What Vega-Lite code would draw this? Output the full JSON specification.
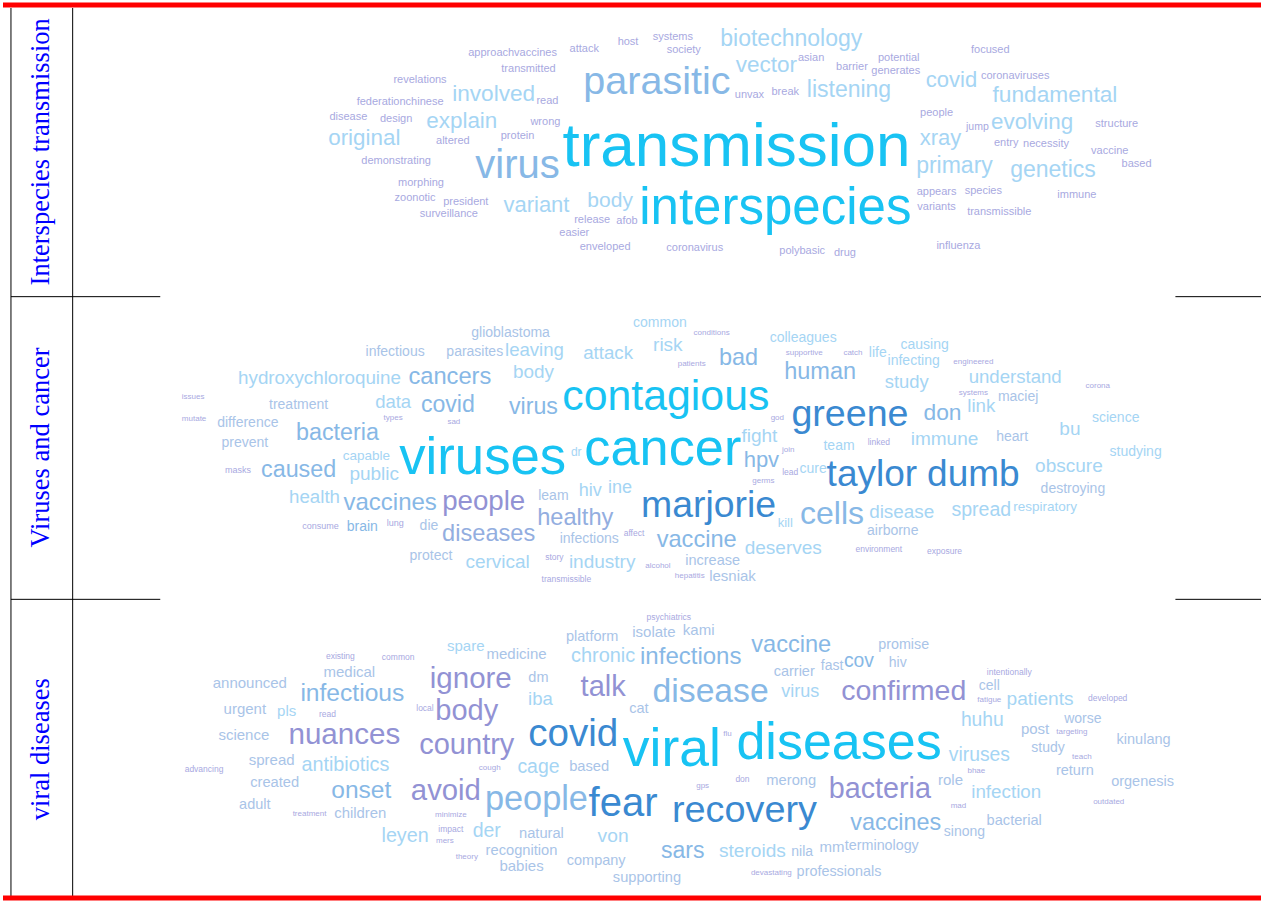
{
"$schema": "https://vega.github.io/schema/vega-lite/v6.json",
"width": 1264, "height": 901,
"autosize": {"type": "fit", "contains": "padding"},
"padding": 0,
"background": "white",
"config": {"view": {"stroke": null}},
"datasets": {
"frame": [
{"x":8,"x2":8,"y":8,"y2":898},
{"x":70,"x2":70,"y":8,"y2":898},
{"x":8,"x2":158,"y":297,"y2":297},
{"x":1178,"x2":1264,"y":297,"y2":297},
{"x":8,"x2":158,"y":600,"y2":600},
{"x":1178,"x2":1264,"y":600,"y2":600}
],
"border": [
{"x":0,"x2":1264,"y":5,"y2":5},
{"x":0,"x2":1264,"y":899,"y2":899}
],
"labels": [
{"label":"Interspecies transmission","x":38,"y":152},
{"label":"Viruses and cancer","x":38,"y":448},
{"label":"viral diseases","x":38,"y":750}
],
"words": [
{"topic":1,"word":"transmission","x":737,"y":147,"freq":62,"cluster":"A"},
{"topic":1,"word":"interspecies","x":776,"y":209,"freq":51,"cluster":"A"},
{"topic":1,"word":"parasitic","x":657,"y":82,"freq":39.5,"cluster":"C"},
{"topic":1,"word":"virus","x":517,"y":166,"freq":40,"cluster":"C"},
{"topic":1,"word":"biotechnology","x":792,"y":39,"freq":23,"cluster":"D"},
{"topic":1,"word":"vector","x":767,"y":65,"freq":22.5,"cluster":"D"},
{"topic":1,"word":"asian","x":812,"y":58,"freq":11,"cluster":"F"},
{"topic":1,"word":"barrier","x":853,"y":67,"freq":11,"cluster":"F"},
{"topic":1,"word":"potential","x":900,"y":58,"freq":11,"cluster":"F"},
{"topic":1,"word":"generates","x":897,"y":71,"freq":11,"cluster":"F"},
{"topic":1,"word":"focused","x":992,"y":50,"freq":11,"cluster":"F"},
{"topic":1,"word":"coronaviruses","x":1017,"y":76,"freq":11,"cluster":"F"},
{"topic":1,"word":"covid","x":953,"y":80,"freq":22,"cluster":"D"},
{"topic":1,"word":"fundamental","x":1057,"y":95,"freq":22.7,"cluster":"D"},
{"topic":1,"word":"listening","x":850,"y":90,"freq":23,"cluster":"D"},
{"topic":1,"word":"unvax","x":750,"y":95,"freq":11,"cluster":"F"},
{"topic":1,"word":"break","x":786,"y":92,"freq":11,"cluster":"F"},
{"topic":1,"word":"people","x":938,"y":113,"freq":11,"cluster":"F"},
{"topic":1,"word":"jump","x":979,"y":127,"freq":10.5,"cluster":"F"},
{"topic":1,"word":"evolving","x":1034,"y":122,"freq":22.4,"cluster":"D"},
{"topic":1,"word":"structure","x":1119,"y":124,"freq":11,"cluster":"F"},
{"topic":1,"word":"xray","x":942,"y":138,"freq":22,"cluster":"D"},
{"topic":1,"word":"entry","x":1008,"y":143,"freq":11,"cluster":"F"},
{"topic":1,"word":"necessity","x":1048,"y":144,"freq":11,"cluster":"F"},
{"topic":1,"word":"vaccine","x":1112,"y":151,"freq":11,"cluster":"F"},
{"topic":1,"word":"based","x":1139,"y":164,"freq":11,"cluster":"F"},
{"topic":1,"word":"primary","x":956,"y":166,"freq":23,"cluster":"D"},
{"topic":1,"word":"genetics","x":1055,"y":170,"freq":23,"cluster":"D"},
{"topic":1,"word":"appears","x":938,"y":192,"freq":11,"cluster":"F"},
{"topic":1,"word":"species","x":985,"y":191,"freq":11,"cluster":"F"},
{"topic":1,"word":"immune","x":1079,"y":195,"freq":11,"cluster":"F"},
{"topic":1,"word":"variants","x":938,"y":207,"freq":11,"cluster":"F"},
{"topic":1,"word":"transmissible","x":1001,"y":212,"freq":11,"cluster":"F"},
{"topic":1,"word":"influenza","x":960,"y":246,"freq":11,"cluster":"F"},
{"topic":1,"word":"polybasic","x":803,"y":251,"freq":11,"cluster":"F"},
{"topic":1,"word":"drug","x":846,"y":253,"freq":11,"cluster":"F"},
{"topic":1,"word":"coronavirus","x":695,"y":248,"freq":11,"cluster":"F"},
{"topic":1,"word":"enveloped","x":605,"y":247,"freq":11,"cluster":"F"},
{"topic":1,"word":"easier","x":574,"y":233,"freq":11,"cluster":"F"},
{"topic":1,"word":"release","x":592,"y":220,"freq":11,"cluster":"F"},
{"topic":1,"word":"afob","x":627,"y":221,"freq":11,"cluster":"F"},
{"topic":1,"word":"body","x":610,"y":201,"freq":21,"cluster":"D"},
{"topic":1,"word":"variant","x":536,"y":205,"freq":22,"cluster":"D"},
{"topic":1,"word":"president","x":465,"y":202,"freq":11,"cluster":"F"},
{"topic":1,"word":"surveillance","x":448,"y":214,"freq":11,"cluster":"F"},
{"topic":1,"word":"zoonotic","x":414,"y":198,"freq":11,"cluster":"F"},
{"topic":1,"word":"morphing","x":420,"y":183,"freq":11,"cluster":"F"},
{"topic":1,"word":"demonstrating","x":395,"y":161,"freq":11,"cluster":"F"},
{"topic":1,"word":"original","x":363,"y":138,"freq":22.4,"cluster":"D"},
{"topic":1,"word":"altered","x":452,"y":141,"freq":11,"cluster":"F"},
{"topic":1,"word":"protein","x":517,"y":136,"freq":11,"cluster":"F"},
{"topic":1,"word":"wrong","x":545,"y":122,"freq":11,"cluster":"F"},
{"topic":1,"word":"explain","x":461,"y":121,"freq":22.4,"cluster":"D"},
{"topic":1,"word":"disease","x":347,"y":117,"freq":11,"cluster":"F"},
{"topic":1,"word":"design","x":395,"y":119,"freq":11,"cluster":"F"},
{"topic":1,"word":"federationchinese","x":399,"y":102,"freq":11,"cluster":"F"},
{"topic":1,"word":"involved","x":493,"y":94,"freq":22.6,"cluster":"D"},
{"topic":1,"word":"read","x":547,"y":101,"freq":11,"cluster":"F"},
{"topic":1,"word":"revelations","x":419,"y":80,"freq":11,"cluster":"F"},
{"topic":1,"word":"transmitted","x":528,"y":69,"freq":11,"cluster":"F"},
{"topic":1,"word":"approachvaccines","x":512,"y":53,"freq":11,"cluster":"F"},
{"topic":1,"word":"attack","x":584,"y":49,"freq":11,"cluster":"F"},
{"topic":1,"word":"host","x":628,"y":42,"freq":11,"cluster":"F"},
{"topic":1,"word":"systems","x":673,"y":37,"freq":11,"cluster":"F"},
{"topic":1,"word":"society","x":684,"y":50,"freq":11,"cluster":"F"},

{"topic":2,"word":"viruses","x":482,"y":459,"freq":52.7,"cluster":"A"},
{"topic":2,"word":"cancer","x":663,"y":449,"freq":52.3,"cluster":"A"},
{"topic":2,"word":"contagious","x":666,"y":397,"freq":42.8,"cluster":"A"},
{"topic":2,"word":"greene","x":851,"y":415,"freq":37.6,"cluster":"B"},
{"topic":2,"word":"marjorie","x":709,"y":507,"freq":37.4,"cluster":"B"},
{"topic":2,"word":"taylor","x":873,"y":476,"freq":37,"cluster":"B"},
{"topic":2,"word":"dumb","x":975,"y":476,"freq":37,"cluster":"B"},
{"topic":2,"word":"cells","x":833,"y":515,"freq":32,"cluster":"C"},
{"topic":2,"word":"people","x":483,"y":503,"freq":27.7,"cluster":"E"},
{"topic":2,"word":"vaccines","x":389,"y":504,"freq":24,"cluster":"C"},
{"topic":2,"word":"diseases","x":488,"y":535,"freq":23.6,"cluster":"H"},
{"topic":2,"word":"healthy","x":575,"y":519,"freq":23.6,"cluster":"H"},
{"topic":2,"word":"health","x":313,"y":498,"freq":18.7,"cluster":"D"},
{"topic":2,"word":"caused","x":297,"y":471,"freq":23.3,"cluster":"C"},
{"topic":2,"word":"public","x":373,"y":475,"freq":19,"cluster":"D"},
{"topic":2,"word":"capable","x":365,"y":457,"freq":13.5,"cluster":"D"},
{"topic":2,"word":"masks","x":236,"y":471,"freq":9,"cluster":"F"},
{"topic":2,"word":"consume","x":319,"y":527,"freq":9,"cluster":"F"},
{"topic":2,"word":"brain","x":361,"y":528,"freq":14,"cluster":"C"},
{"topic":2,"word":"lung","x":394,"y":524,"freq":9,"cluster":"F"},
{"topic":2,"word":"die","x":428,"y":527,"freq":14,"cluster":"G"},
{"topic":2,"word":"protect","x":430,"y":557,"freq":14,"cluster":"G"},
{"topic":2,"word":"cervical","x":497,"y":563,"freq":19,"cluster":"D"},
{"topic":2,"word":"story","x":554,"y":558,"freq":8.5,"cluster":"F"},
{"topic":2,"word":"industry","x":602,"y":563,"freq":19,"cluster":"D"},
{"topic":2,"word":"transmissible","x":566,"y":580,"freq":8.5,"cluster":"F"},
{"topic":2,"word":"infections","x":589,"y":540,"freq":14,"cluster":"G"},
{"topic":2,"word":"affect","x":634,"y":534,"freq":8.5,"cluster":"F"},
{"topic":2,"word":"leam","x":553,"y":497,"freq":14,"cluster":"G"},
{"topic":2,"word":"hiv","x":590,"y":492,"freq":18,"cluster":"D"},
{"topic":2,"word":"ine","x":620,"y":489,"freq":18,"cluster":"D"},
{"topic":2,"word":"dr","x":576,"y":453,"freq":12,"cluster":"D"},
{"topic":2,"word":"hpv","x":762,"y":461,"freq":22,"cluster":"C"},
{"topic":2,"word":"fight","x":760,"y":436,"freq":19,"cluster":"D"},
{"topic":2,"word":"join","x":789,"y":450,"freq":8,"cluster":"F"},
{"topic":2,"word":"lead","x":791,"y":473,"freq":8.5,"cluster":"F"},
{"topic":2,"word":"cure","x":814,"y":470,"freq":14,"cluster":"D"},
{"topic":2,"word":"germs","x":764,"y":482,"freq":8,"cluster":"F"},
{"topic":2,"word":"kill","x":786,"y":524,"freq":13,"cluster":"D"},
{"topic":2,"word":"vaccine","x":697,"y":541,"freq":23.6,"cluster":"C"},
{"topic":2,"word":"increase","x":713,"y":562,"freq":14.5,"cluster":"G"},
{"topic":2,"word":"alcohol","x":658,"y":567,"freq":8,"cluster":"F"},
{"topic":2,"word":"hepatitis","x":690,"y":577,"freq":8,"cluster":"F"},
{"topic":2,"word":"lesniak","x":733,"y":577,"freq":15,"cluster":"G"},
{"topic":2,"word":"deserves","x":784,"y":549,"freq":19,"cluster":"D"},
{"topic":2,"word":"disease","x":903,"y":513,"freq":18.9,"cluster":"D"},
{"topic":2,"word":"airborne","x":894,"y":532,"freq":14,"cluster":"G"},
{"topic":2,"word":"environment","x":880,"y":550,"freq":8.5,"cluster":"F"},
{"topic":2,"word":"exposure","x":946,"y":552,"freq":8.5,"cluster":"F"},
{"topic":2,"word":"spread","x":983,"y":511,"freq":19.5,"cluster":"D"},
{"topic":2,"word":"respiratory","x":1047,"y":508,"freq":13.5,"cluster":"D"},
{"topic":2,"word":"destroying","x":1075,"y":490,"freq":14,"cluster":"G"},
{"topic":2,"word":"obscure","x":1071,"y":467,"freq":19,"cluster":"D"},
{"topic":2,"word":"studying","x":1138,"y":453,"freq":14,"cluster":"D"},
{"topic":2,"word":"science","x":1118,"y":418,"freq":14,"cluster":"D"},
{"topic":2,"word":"bu","x":1072,"y":429,"freq":19,"cluster":"D"},
{"topic":2,"word":"heart","x":1014,"y":437,"freq":14,"cluster":"G"},
{"topic":2,"word":"immune","x":946,"y":439,"freq":19,"cluster":"D"},
{"topic":2,"word":"team","x":840,"y":446,"freq":14,"cluster":"D"},
{"topic":2,"word":"linked","x":880,"y":442,"freq":8.5,"cluster":"F"},
{"topic":2,"word":"god","x":778,"y":418,"freq":8,"cluster":"F"},
{"topic":2,"word":"don","x":944,"y":413,"freq":22.8,"cluster":"C"},
{"topic":2,"word":"link","x":983,"y":406,"freq":18.7,"cluster":"D"},
{"topic":2,"word":"systems","x":975,"y":393,"freq":8,"cluster":"F"},
{"topic":2,"word":"maciej","x":1020,"y":397,"freq":14,"cluster":"G"},
{"topic":2,"word":"corona","x":1100,"y":386,"freq":8,"cluster":"F"},
{"topic":2,"word":"understand","x":1017,"y":377,"freq":18.6,"cluster":"D"},
{"topic":2,"word":"engineered","x":975,"y":362,"freq":8,"cluster":"F"},
{"topic":2,"word":"study","x":908,"y":382,"freq":18.4,"cluster":"D"},
{"topic":2,"word":"infecting","x":915,"y":361,"freq":14,"cluster":"D"},
{"topic":2,"word":"causing","x":926,"y":345,"freq":14,"cluster":"D"},
{"topic":2,"word":"life","x":879,"y":353,"freq":14,"cluster":"D"},
{"topic":2,"word":"catch","x":854,"y":353,"freq":8,"cluster":"F"},
{"topic":2,"word":"supportive","x":805,"y":353,"freq":8,"cluster":"F"},
{"topic":2,"word":"colleagues","x":804,"y":338,"freq":14,"cluster":"D"},
{"topic":2,"word":"human","x":821,"y":372,"freq":23.5,"cluster":"C"},
{"topic":2,"word":"bad","x":739,"y":358,"freq":23.4,"cluster":"C"},
{"topic":2,"word":"patients","x":692,"y":364,"freq":8,"cluster":"F"},
{"topic":2,"word":"conditions","x":712,"y":333,"freq":8,"cluster":"F"},
{"topic":2,"word":"common","x":660,"y":323,"freq":14,"cluster":"D"},
{"topic":2,"word":"risk","x":668,"y":345,"freq":19,"cluster":"D"},
{"topic":2,"word":"attack","x":608,"y":353,"freq":18.7,"cluster":"D"},
{"topic":2,"word":"leaving","x":534,"y":350,"freq":18.6,"cluster":"D"},
{"topic":2,"word":"parasites","x":474,"y":352,"freq":14,"cluster":"G"},
{"topic":2,"word":"glioblastoma","x":510,"y":333,"freq":14,"cluster":"G"},
{"topic":2,"word":"infectious","x":394,"y":352,"freq":14,"cluster":"G"},
{"topic":2,"word":"body","x":533,"y":372,"freq":18.9,"cluster":"D"},
{"topic":2,"word":"cancers","x":449,"y":377,"freq":23.7,"cluster":"C"},
{"topic":2,"word":"hydroxychloroquine","x":318,"y":378,"freq":18.8,"cluster":"D"},
{"topic":2,"word":"issues","x":191,"y":397,"freq":8,"cluster":"F"},
{"topic":2,"word":"treatment","x":297,"y":405,"freq":14,"cluster":"G"},
{"topic":2,"word":"data","x":392,"y":402,"freq":18.5,"cluster":"D"},
{"topic":2,"word":"covid","x":447,"y":405,"freq":23.1,"cluster":"C"},
{"topic":2,"word":"virus","x":533,"y":407,"freq":23.2,"cluster":"C"},
{"topic":2,"word":"mutate","x":192,"y":419,"freq":8,"cluster":"F"},
{"topic":2,"word":"difference","x":246,"y":423,"freq":14,"cluster":"G"},
{"topic":2,"word":"types","x":392,"y":418,"freq":8,"cluster":"F"},
{"topic":2,"word":"sad","x":453,"y":422,"freq":8,"cluster":"F"},
{"topic":2,"word":"bacteria","x":336,"y":433,"freq":23.3,"cluster":"C"},
{"topic":2,"word":"prevent","x":243,"y":443,"freq":14,"cluster":"G"},

{"topic":3,"word":"viral","x":672,"y":751,"freq":53.5,"cluster":"A"},
{"topic":3,"word":"diseases","x":840,"y":744,"freq":52,"cluster":"A"},
{"topic":3,"word":"covid","x":573,"y":735,"freq":38.6,"cluster":"B"},
{"topic":3,"word":"fear","x":623,"y":805,"freq":40,"cluster":"B"},
{"topic":3,"word":"recovery","x":745,"y":812,"freq":37.8,"cluster":"B"},
{"topic":3,"word":"people","x":536,"y":801,"freq":34.3,"cluster":"C"},
{"topic":3,"word":"avoid","x":445,"y":792,"freq":29.3,"cluster":"E"},
{"topic":3,"word":"bacteria","x":881,"y":790,"freq":28.7,"cluster":"E"},
{"topic":3,"word":"confirmed","x":905,"y":692,"freq":28.5,"cluster":"E"},
{"topic":3,"word":"disease","x":711,"y":693,"freq":33.7,"cluster":"C"},
{"topic":3,"word":"ignore","x":470,"y":680,"freq":29.5,"cluster":"E"},
{"topic":3,"word":"talk","x":603,"y":688,"freq":29,"cluster":"E"},
{"topic":3,"word":"body","x":466,"y":712,"freq":29,"cluster":"E"},
{"topic":3,"word":"nuances","x":343,"y":736,"freq":29.6,"cluster":"E"},
{"topic":3,"word":"country","x":466,"y":746,"freq":29,"cluster":"E"},
{"topic":3,"word":"infectious","x":351,"y":695,"freq":24.6,"cluster":"C"},
{"topic":3,"word":"medical","x":348,"y":673,"freq":15,"cluster":"G"},
{"topic":3,"word":"existing","x":339,"y":657,"freq":8.5,"cluster":"F"},
{"topic":3,"word":"common","x":397,"y":658,"freq":8.5,"cluster":"F"},
{"topic":3,"word":"announced","x":248,"y":684,"freq":15,"cluster":"G"},
{"topic":3,"word":"urgent","x":243,"y":710,"freq":15,"cluster":"G"},
{"topic":3,"word":"pls","x":285,"y":712,"freq":15,"cluster":"D"},
{"topic":3,"word":"read","x":326,"y":715,"freq":8.5,"cluster":"F"},
{"topic":3,"word":"science","x":242,"y":736,"freq":15,"cluster":"G"},
{"topic":3,"word":"local","x":424,"y":709,"freq":8.5,"cluster":"F"},
{"topic":3,"word":"spare","x":465,"y":647,"freq":15,"cluster":"D"},
{"topic":3,"word":"medicine","x":516,"y":655,"freq":15,"cluster":"G"},
{"topic":3,"word":"dm","x":538,"y":679,"freq":14.5,"cluster":"G"},
{"topic":3,"word":"iba","x":540,"y":700,"freq":18.5,"cluster":"D"},
{"topic":3,"word":"cat","x":639,"y":710,"freq":14.5,"cluster":"G"},
{"topic":3,"word":"platform","x":592,"y":638,"freq":14.5,"cluster":"G"},
{"topic":3,"word":"isolate","x":654,"y":633,"freq":15,"cluster":"G"},
{"topic":3,"word":"psychiatrics","x":669,"y":618,"freq":8.5,"cluster":"F"},
{"topic":3,"word":"kami","x":699,"y":631,"freq":15,"cluster":"G"},
{"topic":3,"word":"chronic","x":603,"y":657,"freq":19.9,"cluster":"D"},
{"topic":3,"word":"infections","x":691,"y":658,"freq":24,"cluster":"C"},
{"topic":3,"word":"vaccine","x":792,"y":646,"freq":23.6,"cluster":"C"},
{"topic":3,"word":"promise","x":905,"y":646,"freq":14.3,"cluster":"G"},
{"topic":3,"word":"carrier","x":795,"y":673,"freq":14.5,"cluster":"G"},
{"topic":3,"word":"fast","x":833,"y":667,"freq":14,"cluster":"G"},
{"topic":3,"word":"cov","x":860,"y":662,"freq":19.3,"cluster":"C"},
{"topic":3,"word":"hiv","x":899,"y":664,"freq":14,"cluster":"G"},
{"topic":3,"word":"virus","x":801,"y":693,"freq":18,"cluster":"D"},
{"topic":3,"word":"intentionally","x":1011,"y":673,"freq":8.5,"cluster":"F"},
{"topic":3,"word":"cell","x":991,"y":687,"freq":14,"cluster":"G"},
{"topic":3,"word":"fatigue","x":991,"y":701,"freq":8,"cluster":"F"},
{"topic":3,"word":"patients","x":1042,"y":700,"freq":19.1,"cluster":"D"},
{"topic":3,"word":"developed","x":1110,"y":699,"freq":8.5,"cluster":"F"},
{"topic":3,"word":"huhu","x":984,"y":721,"freq":19.3,"cluster":"D"},
{"topic":3,"word":"worse","x":1085,"y":720,"freq":14,"cluster":"G"},
{"topic":3,"word":"post","x":1037,"y":730,"freq":15,"cluster":"G"},
{"topic":3,"word":"targeting","x":1074,"y":733,"freq":8,"cluster":"F"},
{"topic":3,"word":"kinulang","x":1146,"y":741,"freq":14.5,"cluster":"G"},
{"topic":3,"word":"study","x":1050,"y":749,"freq":14,"cluster":"G"},
{"topic":3,"word":"teach","x":1084,"y":758,"freq":8,"cluster":"F"},
{"topic":3,"word":"viruses","x":981,"y":756,"freq":19.3,"cluster":"D"},
{"topic":3,"word":"return","x":1077,"y":772,"freq":14.5,"cluster":"G"},
{"topic":3,"word":"orgenesis","x":1145,"y":783,"freq":14.5,"cluster":"G"},
{"topic":3,"word":"outdated","x":1111,"y":803,"freq":8,"cluster":"F"},
{"topic":3,"word":"bhae","x":978,"y":772,"freq":8,"cluster":"F"},
{"topic":3,"word":"role","x":952,"y":781,"freq":15,"cluster":"G"},
{"topic":3,"word":"infection","x":1008,"y":793,"freq":18.8,"cluster":"D"},
{"topic":3,"word":"mad","x":960,"y":807,"freq":8,"cluster":"F"},
{"topic":3,"word":"bacterial","x":1016,"y":822,"freq":14.6,"cluster":"G"},
{"topic":3,"word":"sinong","x":966,"y":833,"freq":14,"cluster":"G"},
{"topic":3,"word":"vaccines","x":897,"y":824,"freq":23.4,"cluster":"C"},
{"topic":3,"word":"gps","x":703,"y":787,"freq":8,"cluster":"F"},
{"topic":3,"word":"don","x":743,"y":780,"freq":8.5,"cluster":"F"},
{"topic":3,"word":"merong","x":792,"y":782,"freq":14.7,"cluster":"G"},
{"topic":3,"word":"mm","x":833,"y":848,"freq":15,"cluster":"G"},
{"topic":3,"word":"terminology","x":883,"y":847,"freq":14.3,"cluster":"G"},
{"topic":3,"word":"steroids","x":753,"y":852,"freq":19.1,"cluster":"D"},
{"topic":3,"word":"nila","x":803,"y":853,"freq":14,"cluster":"G"},
{"topic":3,"word":"sars","x":683,"y":852,"freq":23,"cluster":"C"},
{"topic":3,"word":"devastating","x":772,"y":874,"freq":8,"cluster":"F"},
{"topic":3,"word":"professionals","x":840,"y":873,"freq":14.4,"cluster":"G"},
{"topic":3,"word":"supporting","x":647,"y":879,"freq":14.6,"cluster":"G"},
{"topic":3,"word":"company","x":596,"y":862,"freq":14.5,"cluster":"G"},
{"topic":3,"word":"von","x":613,"y":837,"freq":19.2,"cluster":"D"},
{"topic":3,"word":"natural","x":541,"y":835,"freq":14.7,"cluster":"G"},
{"topic":3,"word":"recognition","x":521,"y":852,"freq":14.7,"cluster":"G"},
{"topic":3,"word":"babies","x":521,"y":867,"freq":15,"cluster":"G"},
{"topic":3,"word":"theory","x":466,"y":858,"freq":8,"cluster":"F"},
{"topic":3,"word":"der","x":486,"y":832,"freq":19.4,"cluster":"D"},
{"topic":3,"word":"impact","x":450,"y":830,"freq":8.5,"cluster":"F"},
{"topic":3,"word":"mers","x":444,"y":842,"freq":8,"cluster":"F"},
{"topic":3,"word":"minimize","x":450,"y":816,"freq":8,"cluster":"F"},
{"topic":3,"word":"leyen","x":404,"y":837,"freq":19.7,"cluster":"D"},
{"topic":3,"word":"onset","x":360,"y":792,"freq":24.5,"cluster":"C"},
{"topic":3,"word":"cage","x":538,"y":768,"freq":19.4,"cluster":"D"},
{"topic":3,"word":"based","x":589,"y":768,"freq":14.7,"cluster":"G"},
{"topic":3,"word":"cough","x":489,"y":769,"freq":8,"cluster":"F"},
{"topic":3,"word":"antibiotics","x":344,"y":766,"freq":19.8,"cluster":"D"},
{"topic":3,"word":"spread","x":270,"y":761,"freq":15,"cluster":"G"},
{"topic":3,"word":"advancing","x":202,"y":770,"freq":8.5,"cluster":"F"},
{"topic":3,"word":"created","x":273,"y":784,"freq":14.7,"cluster":"G"},
{"topic":3,"word":"adult","x":253,"y":806,"freq":14.5,"cluster":"G"},
{"topic":3,"word":"treatment","x":308,"y":815,"freq":8,"cluster":"F"},
{"topic":3,"word":"children","x":359,"y":815,"freq":14.9,"cluster":"G"},
{"topic":3,"word":"flu","x":728,"y":735,"freq":8,"cluster":"F"}
]
},
"layer": [
{
"data": {"name": "frame"},
"mark": {"type": "rule", "color": "#000000", "strokeWidth": 1},
"encoding": {
"x": {"field": "x", "type": "quantitative", "scale": {"domain": [0, 1264], "nice": false, "zero": false}, "axis": null},
"x2": {"field": "x2"},
"y": {"field": "y", "type": "quantitative", "scale": {"domain": [0, 901], "nice": false, "zero": false, "reverse": true}, "axis": null},
"y2": {"field": "y2"}
}
},
{
"data": {"name": "border"},
"mark": {"type": "rule", "color": "#ff0000", "strokeWidth": 5},
"encoding": {
"x": {"field": "x", "type": "quantitative"},
"x2": {"field": "x2"},
"y": {"field": "y", "type": "quantitative"},
"y2": {"field": "y2"}
}
},
{
"data": {"name": "labels"},
"mark": {"type": "text", "angle": 270, "font": "Liberation Serif", "fontSize": 26.5, "color": "#0000ff", "align": "center", "baseline": "middle"},
"encoding": {
"x": {"field": "x", "type": "quantitative"},
"y": {"field": "y", "type": "quantitative"},
"text": {"field": "label"}
}
},
{
"data": {"name": "words"},
"mark": {"type": "text", "font": "Liberation Sans", "align": "center", "baseline": "middle"},
"encoding": {
"x": {"field": "x", "type": "quantitative"},
"y": {"field": "y", "type": "quantitative"},
"text": {"field": "word"},
"size": {"field": "freq", "type": "quantitative", "scale": {"type": "linear", "domain": [0, 60], "range": [0, 60]}, "legend": null},
"color": {"field": "cluster", "type": "nominal", "scale": {"domain": ["A","B","C","D","E","F","G","H"], "range": ["#18c3f3","#3a89d1","#87b8e6","#a5d5f4","#9292d4","#a8a9df","#a9c4e8","#93aee0"]}, "legend": null}
}
}
]
}
